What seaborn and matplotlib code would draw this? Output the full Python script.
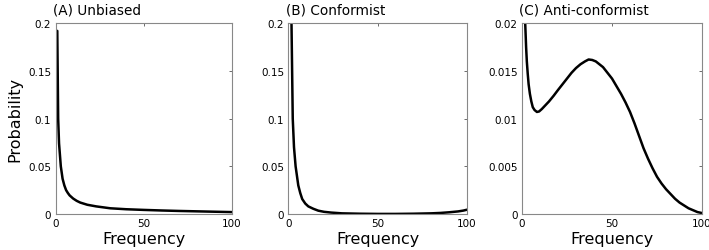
import matplotlib
matplotlib.use("Agg")
import matplotlib.pyplot as plt
import seaborn as sns
import pandas as pd

# values
freq_a = [1, 1.5, 2, 3, 4, 5, 6, 7, 8, 10, 12, 14, 18, 23, 31, 40, 50, 60, 70, 80, 90, 100]
prob_a = [0.192, 0.1, 0.074, 0.05, 0.037, 0.03, 0.025, 0.022, 0.0195, 0.0162, 0.0138,
          0.012, 0.0097, 0.008, 0.006, 0.005, 0.0043, 0.0037, 0.0032, 0.0028, 0.0024, 0.002]

freq_b = [1, 1.8, 2.5, 3.2, 4.1, 5.6, 6.7, 7.8, 9.5, 11.2, 14, 16.8, 20, 24, 30, 40, 50,
          60, 70, 80, 85, 90, 95, 98, 100]
prob_b = [0.35, 0.2, 0.1, 0.07, 0.05, 0.03, 0.022, 0.0157, 0.011, 0.008, 0.0055, 0.0035,
          0.0023, 0.0015, 0.0007, 0.0003, 0.0001, 0.0001, 0.0003, 0.0007, 0.0011,
          0.0018, 0.0027, 0.0036, 0.0045]

freq_c = [1, 1.8, 2.3, 2.7, 3.2, 3.7, 4.4, 5.2, 6, 7, 8.3, 9.5, 11, 13, 15, 17.6, 20,
          22.5, 25, 27.5, 30, 32.5, 35, 37, 39, 41, 43, 45, 47.5, 50, 52.5, 55, 57.5,
          60, 62.5, 65, 67.5, 70, 72.5, 75, 77.5, 80, 82.5, 85, 87.5, 90, 92.5, 95,
          97.5, 100]
prob_c = [0.03, 0.02, 0.0175, 0.016, 0.0147, 0.0136, 0.0126, 0.0118, 0.0112, 0.0109,
          0.0107, 0.01075, 0.011, 0.0114, 0.0118, 0.0124, 0.013, 0.0136, 0.0142, 0.0148,
          0.0153, 0.0157, 0.016, 0.0162, 0.01615, 0.016, 0.0157, 0.0154, 0.0148, 0.0142,
          0.0134, 0.0126, 0.0117, 0.0107, 0.0095, 0.0082, 0.0069, 0.0058, 0.0048, 0.0039,
          0.0032, 0.0026, 0.0021, 0.0016, 0.0012, 0.0009, 0.0006, 0.0004, 0.0002, 0.0001]

titles = ["(A) Unbiased", "(B) Conformist", "(C) Anti-conformist"]
y_max = [0.2, 0.2, 0.02]
y_ticks = [[0, 0.05, 0.1, 0.15, 0.2], [0, 0.05, 0.1, 0.15, 0.2],
           [0, 0.005, 0.01, 0.015, 0.02]]
y_ticklabels = [["0", "0.05", "0.1", "0.15", "0.2"], ["0", "0.05", "0.1", "0.15", "0.2"],
                ["0", "0.005", "0.01", "0.015", "0.02"]]
x_ticks = [0, 50, 100]

sns.set_style("white")
plt.rcParams["font.family"] = ["DejaVu Sans"]
plt.rcParams["text.color"] = "black"
plt.rcParams["axes.labelcolor"] = "black"

fig = plt.figure(figsize=(7.09, 2.51), dpi=100)
lefts = [0.0783, 0.4066, 0.7362]
widths = [0.249, 0.252, 0.254]

data = [(freq_a, prob_a), (freq_b, prob_b), (freq_c, prob_c)]
for i, (fx, py) in enumerate(data):
    ax = fig.add_axes([lefts[i], 0.1434, widths[i], 0.760])
    df = pd.DataFrame({"Frequency": fx, "Probability": py})
    sns.lineplot(data=df, x="Frequency", y="Probability", ax=ax,
                 color="black", linewidth=1.8)
    ax.set_xlim(0, 100)
    ax.set_ylim(0, y_max[i])
    ax.set_xticks(x_ticks)
    ax.set_xticklabels([str(t) for t in x_ticks])
    ax.set_yticks(y_ticks[i])
    ax.set_yticklabels(y_ticklabels[i])
    ax.tick_params(direction="in", length=2.5, width=0.6, color="#555555",
                   labelcolor="black", labelsize=7.5, top=True, right=True, pad=3)
    for s in ax.spines.values():
        s.set_color("#888888")
        s.set_linewidth(0.8)
    ax.set_xlabel("Frequency", fontsize=11.5, labelpad=2)
    if i == 0:
        ax.set_ylabel("Probability", fontsize=11.5, labelpad=4)
    else:
        ax.set_ylabel("")
    ax.set_title(titles[i], fontsize=9.8, loc="left", x=-0.015, pad=7)

fig.savefig("out.png", dpi=100)
